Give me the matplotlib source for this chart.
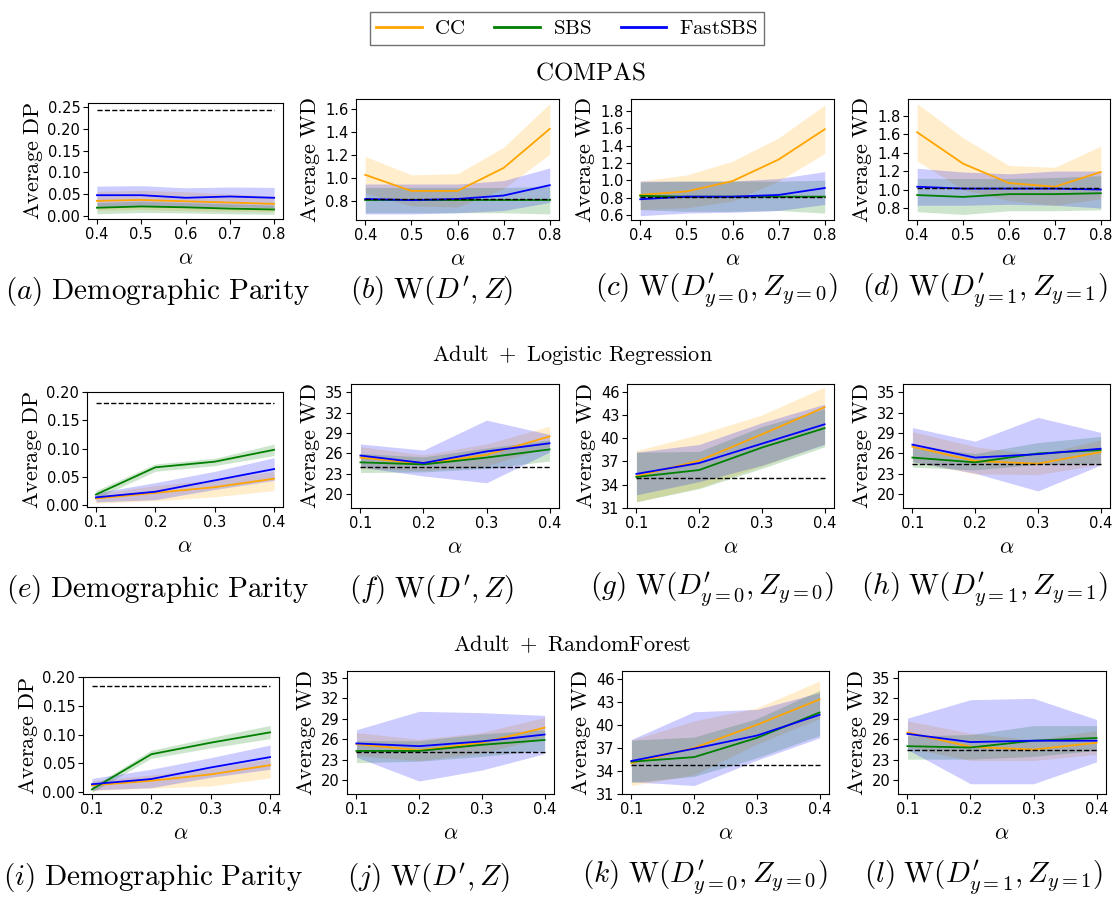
import numpy as np
import matplotlib
matplotlib.use("Agg")
import matplotlib.pyplot as plt
from matplotlib.lines import Line2D

plt.rcParams['mathtext.fontset'] = 'cm'

# alpha values
alpha_compas = [0.4, 0.5, 0.6, 0.7, 0.8]
alpha_adult = [0.1, 0.2, 0.3, 0.4]

# each series: [mean, lower, upper]
# COMPAS
a_cc = [[0.034, 0.036, 0.033, 0.030, 0.027], [0.012, 0.014, 0.011, 0.010, 0.009], [0.056, 0.058, 0.055, 0.050, 0.045]]
a_sbs = [[0.018, 0.021, 0.019, 0.016, 0.014], [0.004, 0.007, 0.006, 0.004, 0.003], [0.030, 0.033, 0.030, 0.027, 0.024]]
a_fast = [[0.047, 0.047, 0.041, 0.044, 0.041], [0.020, 0.022, 0.020, 0.020, 0.018], [0.068, 0.069, 0.064, 0.066, 0.065]]
a_base = 0.243

b_cc = [[1.03, 0.89, 0.89, 1.09, 1.43], [0.87, 0.76, 0.75, 0.91, 1.21], [1.19, 1.03, 1.04, 1.27, 1.65]]
b_sbs = [[0.81, 0.81, 0.81, 0.81, 0.81], [0.70, 0.70, 0.70, 0.70, 0.69], [0.92, 0.92, 0.92, 0.92, 0.93]]
b_fast = [[0.82, 0.81, 0.82, 0.85, 0.94], [0.69, 0.69, 0.70, 0.72, 0.79], [0.95, 0.95, 0.95, 0.98, 1.09]]
b_base = 0.82

c_cc = [[0.83, 0.87, 0.99, 1.24, 1.59], [0.66, 0.68, 0.76, 0.99, 1.31], [0.99, 1.06, 1.22, 1.49, 1.87]]
c_sbs = [[0.82, 0.81, 0.81, 0.81, 0.81], [0.66, 0.64, 0.64, 0.65, 0.62], [0.98, 0.99, 0.99, 0.99, 1.00]]
c_fast = [[0.78, 0.81, 0.81, 0.83, 0.91], [0.59, 0.62, 0.63, 0.65, 0.72], [0.99, 0.99, 0.99, 1.02, 1.10]]
c_base = 0.81

d_cc = [[1.62, 1.28, 1.07, 1.03, 1.19], [1.31, 1.00, 0.88, 0.83, 0.90], [1.93, 1.56, 1.26, 1.24, 1.47]]
d_sbs = [[0.94, 0.92, 0.95, 0.95, 0.96], [0.76, 0.73, 0.77, 0.77, 0.78], [1.12, 1.12, 1.12, 1.13, 1.15]]
d_fast = [[1.03, 1.01, 1.01, 1.01, 1.00], [0.83, 0.83, 0.84, 0.83, 0.80], [1.23, 1.19, 1.17, 1.20, 1.20]]
d_base = 1.02

# Adult + Logistic Regression
e_cc = [[0.012, 0.022, 0.032, 0.047], [0.004, 0.008, 0.015, 0.026], [0.020, 0.035, 0.045, 0.060]]
e_sbs = [[0.019, 0.067, 0.077, 0.098], [0.012, 0.060, 0.070, 0.088], [0.026, 0.073, 0.083, 0.108]]
e_fast = [[0.014, 0.024, 0.044, 0.064], [0.006, 0.010, 0.028, 0.044], [0.022, 0.040, 0.060, 0.084]]
e_base = 0.18

f_cc = [[25.4, 24.5, 25.8, 28.5], [23.8, 23.5, 24.2, 27.0], [27.0, 25.8, 27.4, 30.0]]
f_sbs = [[24.7, 24.4, 25.4, 26.6], [23.2, 23.3, 23.8, 24.9], [26.0, 25.5, 26.8, 28.0]]
f_fast = [[25.7, 24.6, 26.3, 27.5], [24.0, 22.7, 21.7, 26.2], [27.4, 26.5, 30.9, 28.8]]
f_base = 24.0

g_cc = [[35.1, 37.1, 40.5, 44.0], [31.8, 33.6, 36.4, 39.3], [38.4, 40.5, 43.0, 46.6]]
g_sbs = [[35.0, 35.9, 38.8, 41.3], [31.8, 33.5, 36.1, 38.9], [38.2, 38.3, 41.5, 43.8]]
g_fast = [[35.4, 36.8, 39.3, 41.8], [32.7, 34.4, 36.5, 39.2], [38.2, 39.2, 42.0, 44.4]]
g_base = 34.9

h_cc = [[27.0, 24.9, 24.5, 26.2], [24.8, 23.0, 22.9, 24.4], [29.2, 27.0, 25.8, 28.0]]
h_sbs = [[25.4, 24.7, 26.0, 26.5], [24.0, 23.6, 24.4, 24.6], [27.0, 26.0, 27.6, 28.5]]
h_fast = [[27.3, 25.4, 25.9, 26.7], [24.8, 23.1, 20.5, 24.3], [29.8, 27.8, 31.3, 29.1]]
h_base = 24.5

# Adult + RandomForest
i_cc = [[0.012, 0.020, 0.031, 0.047], [0.003, 0.007, 0.011, 0.025], [0.020, 0.030, 0.042, 0.058]]
i_sbs = [[0.005, 0.066, 0.086, 0.104], [0.000, 0.059, 0.077, 0.093], [0.010, 0.073, 0.095, 0.116]]
i_fast = [[0.014, 0.023, 0.043, 0.061], [0.004, 0.008, 0.026, 0.040], [0.024, 0.040, 0.060, 0.082]]
i_base = 0.184

j_cc = [[25.3, 24.4, 25.5, 27.7], [23.6, 22.9, 24.0, 26.2], [27.0, 26.0, 27.0, 29.2]]
j_sbs = [[24.3, 24.3, 25.2, 25.9], [22.6, 22.8, 23.5, 24.4], [25.8, 25.8, 26.8, 27.4]]
j_fast = [[25.4, 25.0, 25.7, 26.7], [23.4, 19.9, 21.5, 23.9], [27.4, 30.1, 29.9, 29.5]]
j_base = 24.1

k_cc = [[35.0, 37.0, 40.0, 43.3], [32.1, 33.5, 37.5, 40.8], [38.0, 40.5, 42.2, 45.7]]
k_sbs = [[35.2, 35.8, 38.3, 41.6], [32.5, 33.3, 35.7, 38.6], [38.0, 38.4, 40.8, 44.5]]
k_fast = [[35.3, 36.9, 38.6, 41.3], [32.6, 32.1, 35.4, 38.3], [38.1, 41.7, 42.0, 44.2]]
k_base = 34.8

l_cc = [[27.0, 24.9, 24.5, 25.5], [24.8, 22.9, 22.9, 23.8], [28.7, 26.9, 25.9, 27.3]]
l_sbs = [[25.0, 24.8, 25.8, 26.2], [23.1, 23.1, 23.5, 24.4], [26.5, 26.7, 28.0, 28.0]]
l_fast = [[26.8, 25.6, 25.8, 25.8], [24.5, 19.5, 19.5, 22.7], [29.1, 31.8, 32.0, 28.9]]
l_base = 24.5

captions = [r"$(a)\ \mathrm{Demographic\ Parity}$", r"$(b)\ \mathrm{W}(D^{\prime}, Z)$",
            r"$(c)\ \mathrm{W}(D^{\prime}_{y=0}, Z_{y=0})$", r"$(d)\ \mathrm{W}(D^{\prime}_{y=1}, Z_{y=1})$",
            r"$(e)\ \mathrm{Demographic\ Parity}$", r"$(f)\ \mathrm{W}(D^{\prime}, Z)$",
            r"$(g)\ \mathrm{W}(D^{\prime}_{y=0}, Z_{y=0})$", r"$(h)\ \mathrm{W}(D^{\prime}_{y=1}, Z_{y=1})$",
            r"$(i)\ \mathrm{Demographic\ Parity}$", r"$(j)\ \mathrm{W}(D^{\prime}, Z)$",
            r"$(k)\ \mathrm{W}(D^{\prime}_{y=0}, Z_{y=0})$", r"$(l)\ \mathrm{W}(D^{\prime}_{y=1}, Z_{y=1})$"]

W, H = 1120, 901
fig = plt.figure(figsize=(11.2, 9.01), dpi=100)

def px_axes(l, t, r, b):
    return fig.add_axes([l / W, 1 - b / H, (r - l) / W, (b - t) / H])

# pixel boxes: left, top, right, bottom
boxes = [(88, 103, 283, 219), (356, 99, 559, 220), (631, 99, 834, 220), (908, 99, 1110, 220),
         (87, 392, 283, 507), (351, 384, 559, 508), (627, 384, 834, 508), (903, 384, 1110, 508),
         (83, 677, 279, 794), (347, 671, 554, 794), (622, 671, 829, 794), (898, 671, 1106, 794)]

panels = [(a_cc, a_sbs, a_fast, a_base), (b_cc, b_sbs, b_fast, b_base),
          (c_cc, c_sbs, c_fast, c_base), (d_cc, d_sbs, d_fast, d_base),
          (e_cc, e_sbs, e_fast, e_base), (f_cc, f_sbs, f_fast, f_base),
          (g_cc, g_sbs, g_fast, g_base), (h_cc, h_sbs, h_fast, h_base),
          (i_cc, i_sbs, i_fast, i_base), (j_cc, j_sbs, j_fast, j_base),
          (k_cc, k_sbs, k_fast, k_base), (l_cc, l_sbs, l_fast, l_base)]

colors = ['orange', 'green', 'blue']

ylims = [(-0.008, 0.26), (0.637, 1.69), (0.54, 1.94), (0.67, 1.98),
         (-0.003, 0.2), (18.0, 36.2), (31.0, 47.0), (18.0, 36.2),
         (-0.003, 0.2), (18.0, 36.0), (31.0, 47.0), (18.0, 36.0)]
yticks_wd = [20, 23, 26, 29, 32, 35]
yticks_big = [31, 34, 37, 40, 43, 46]

cap_y = [291, 590, 878]
cap_x = [[158, 432, 716, 985], [158, 432, 712, 985], [153, 428, 705, 983]]

for n, (box, pan) in enumerate(zip(boxes, panels)):
    ax = px_axes(*box)
    row, col = n // 4, n % 4
    x = alpha_compas if row == 0 else alpha_adult
    for ser, c in zip(pan[:3], colors):
        ax.fill_between(x, ser[1], ser[2], color=c, alpha=0.2, lw=0)
        ax.plot(x, ser[0], color=c, lw=1.3)
    ax.plot(x, [pan[3]] * len(x), 'k--', lw=1)
    ax.set_ylim(*ylims[n])
    ax.set_xticks(x)
    if row == 0:
        ax.set_xticklabels(['0.4', '0.5', '0.6', '0.7', '0.8'])
        if col == 0:
            ax.set_yticks([0.0, 0.05, 0.1, 0.15, 0.2, 0.25])
        elif col == 1:
            ax.set_yticks([0.8, 1.0, 1.2, 1.4, 1.6])
        elif col == 2:
            ax.set_yticks([0.6, 0.8, 1.0, 1.2, 1.4, 1.6, 1.8])
        else:
            ax.set_yticks([0.8, 1.0, 1.2, 1.4, 1.6, 1.8])
    else:
        ax.set_xticklabels(['0.1', '0.2', '0.3', '0.4'])
        if col == 0:
            ax.set_yticks([0.0, 0.05, 0.1, 0.15, 0.2])
        elif col == 2:
            ax.set_yticks(yticks_big)
        else:
            ax.set_yticks(yticks_wd)
    ax.tick_params(labelsize=10.5, length=3.5, pad=2)
    ax.set_ylabel(r'$\mathrm{Average\ DP}$' if col == 0 else r'$\mathrm{Average\ WD}$',
                  fontsize=16, labelpad=2)
    ax.set_xlabel(r'$\alpha$', fontsize=16, labelpad=5)
    fig.text(cap_x[row][col] / W, 1 - cap_y[row] / H, captions[n],
             fontsize=21, ha='center', va='center')

fig.text(590 / W, 1 - 73 / H, r'$\mathrm{COMPAS}$', fontsize=18, ha='center', va='center')
fig.text(572 / W, 1 - 355 / H, r'$\mathrm{Adult\ +\ Logistic\ Regression}$', fontsize=16,
         ha='center', va='center')
fig.text(572 / W, 1 - 644 / H, r'$\mathrm{Adult\ +\ RandomForest}$', fontsize=16,
         ha='center', va='center')

handles = [Line2D([], [], color=c, lw=2) for c in colors]
fig.legend(handles, [r'$\mathrm{CC}$', r'$\mathrm{SBS}$', r'$\mathrm{FastSBS}$'],
           loc='upper center', bbox_to_anchor=(567 / W, 0.998), ncol=3, fontsize=15,
           handlelength=2.2, columnspacing=1.4, fancybox=False, edgecolor='0.3',
           borderpad=0.3, handletextpad=0.6)

fig.savefig('out.png', dpi=100)
